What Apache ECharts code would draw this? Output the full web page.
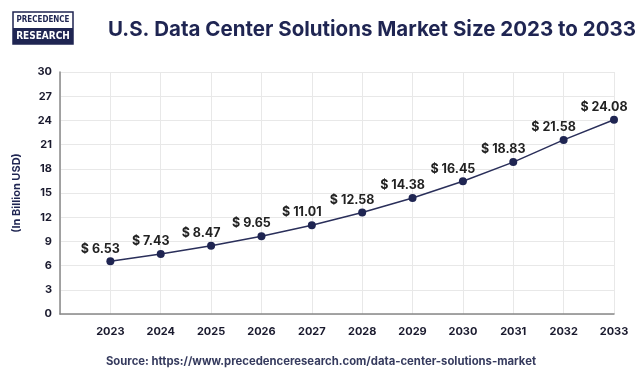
<!DOCTYPE html>
<html>
<head>
<meta charset="utf-8">
<script src="https://cdn.jsdelivr.net/npm/echarts@6/dist/echarts.min.js"></script>
<style>
html,body{margin:0;padding:0;background:#ffffff;}
#chart{width:640px;height:375px;}
</style>
</head>
<body>
<div id="chart"></div>
<script>
const years = [2023, 2024, 2025, 2026, 2027, 2028, 2029, 2030, 2031, 2032, 2033];
const values = [6.53, 7.43, 8.47, 9.65, 11.01, 12.58, 14.38, 16.45, 18.83, 21.58, 24.08];
const yTicks = [0, 3, 6, 9, 12, 15, 18, 21, 24, 27, 30];
const titleText = 'U.S. Data Center Solutions Market Size 2023 to 2033';
const yAxisTitle = '(In Billion USD)';
const sourceText = 'Source: https://www.precedenceresearch.com/data-center-solutions-market';

const navy = '#1f2552';
const chart = echarts.init(document.getElementById('chart'), null, {renderer: 'canvas'});
const fontFam = 'Inter, "Liberation Sans", Arial, sans-serif';

chart.setOption({
  backgroundColor: '#ffffff',
  animation: false,
  title: {
    text: titleText,
    left: 367, top: 14, textAlign: 'center',
    textStyle: {fontFamily: fontFam, fontSize: 20.5, fontWeight: 'bold', color: navy}
  },
  graphic: [
    {type: 'rect', shape: {x: 13, y: 12, width: 60, height: 32}, style: {fill: '#fff', stroke: navy, lineWidth: 1.5}},
    {type: 'rect', shape: {x: 13, y: 28, width: 60, height: 16}, style: {fill: navy}},
    {type: 'text', style: {x: 43, y: 20, text: 'PRECEDENCE', align: 'center', verticalAlign: 'middle', fill: navy, font: 'bold 8px "DejaVu Sans Condensed", "Liberation Sans Narrow", sans-serif'}},
    {type: 'text', style: {x: 43, y: 36.5, text: 'RESEARCH', align: 'center', verticalAlign: 'middle', fill: '#fff', font: 'bold 10px "DejaVu Sans Condensed", "Liberation Sans Narrow", sans-serif'}},
    {type: 'text', style: {x: 321, y: 362, text: sourceText, align: 'center', verticalAlign: 'middle', fill: '#363b5e', font: 'bold 11.3px ' + fontFam}}
  ],
  grid: {left: 60, right: 26, top: 72, bottom: 61, containLabel: false},
  xAxis: {
    type: 'value',
    min: 2022, max: 2033, interval: 1,
    axisLine: {show: true, onZero: false, lineStyle: {color: '#888', width: 1.5}},
    axisTick: {show: false},
    splitLine: {show: true, lineStyle: {color: '#e8e8e8'}},
    axisLabel: {
      margin: 12, color: '#1a1a2e', fontFamily: fontFam, fontWeight: 'bold', fontSize: 11,
      formatter: v => (years.indexOf(v) >= 0 ? String(v) : '')
    }
  },
  yAxis: {
    type: 'value',
    min: 0, max: 30, interval: 3,
    name: yAxisTitle, nameLocation: 'middle', nameGap: 38, nameRotate: 90,
    nameTextStyle: {color: navy, fontFamily: fontFam, fontWeight: 'bold', fontSize: 11},
    axisLine: {show: true, lineStyle: {color: '#888', width: 1.5}},
    axisTick: {show: false},
    splitLine: {show: true, lineStyle: {color: '#e8e8e8'}},
    axisLabel: {
      margin: 8, color: '#1a1a2e', fontFamily: fontFam, fontWeight: 'bold', fontSize: 11,
      formatter: v => (yTicks.indexOf(v) >= 0 ? String(v) : '')
    }
  },
  series: [{
    type: 'line',
    data: years.map((y, i) => [y, values[i]]),
    symbol: 'circle', symbolSize: 8,
    lineStyle: {color: '#2a2f5a', width: 1.5},
    itemStyle: {color: navy},
    label: {
      show: true, position: 'top', distance: 2, offset: [-10, 0],
      formatter: p => '$ ' + p.value[1].toFixed(2),
      color: '#222', fontFamily: fontFam, fontWeight: 'bold', fontSize: 12.5
    }
  }]
});
</script>
</body>
</html>
